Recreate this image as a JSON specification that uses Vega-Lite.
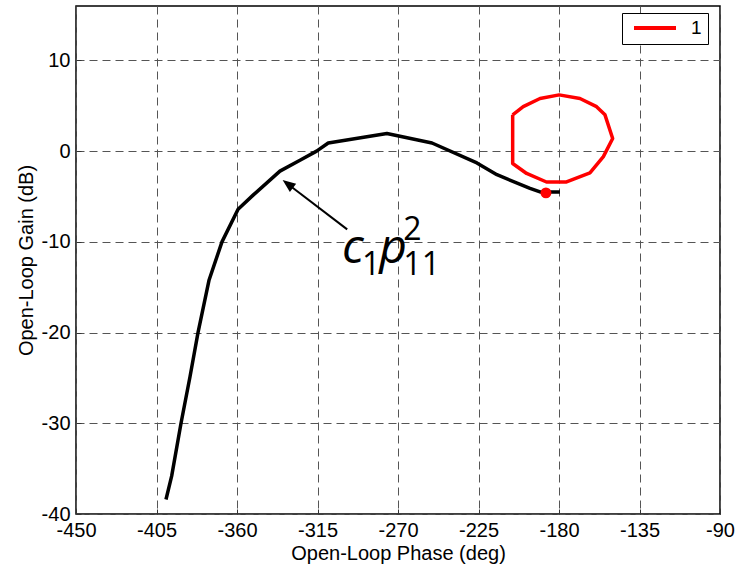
{
  "$schema": "https://vega.github.io/schema/vega-lite/v6.json",
  "width": 644,
  "height": 508,
  "autosize": "none",
  "padding": {"left": 76, "top": 6, "right": 21, "bottom": 53},
  "background": "white",
  "config": {
    "view": {"stroke": "black", "strokeWidth": 1.5},
    "font": "Liberation Sans",
    "axis": {
      "domain": false,
      "grid": true,
      "gridColor": "#555555",
      "gridDash": [8, 5],
      "gridWidth": 1,
      "gridOpacity": 1,
      "ticks": true,
      "tickColor": "#333333",
      "tickSize": -5,
      "labelFlush": false,
      "labelOverlap": false,
      "labelFont": "Liberation Sans",
      "labelFontSize": 20,
      "labelColor": "black",
      "titleFont": "Liberation Sans",
      "titleFontSize": 20,
      "titleFontWeight": "normal",
      "titleColor": "black"
    }
  },
  "datasets": {
    "curve": [
      {"phase": -399.7, "gain": -38.4, "i": 1},
      {"phase": -396.5, "gain": -35.8, "i": 2},
      {"phase": -391.3, "gain": -30.0, "i": 3},
      {"phase": -386.3, "gain": -24.9, "i": 4},
      {"phase": -381.8, "gain": -20.0, "i": 5},
      {"phase": -375.6, "gain": -14.2, "i": 6},
      {"phase": -368.4, "gain": -10.0, "i": 7},
      {"phase": -359.4, "gain": -6.4, "i": 8},
      {"phase": -351.0, "gain": -4.85, "i": 9},
      {"phase": -336.0, "gain": -2.2, "i": 10},
      {"phase": -324.8, "gain": -1.0, "i": 11},
      {"phase": -315.5, "gain": 0.0, "i": 12},
      {"phase": -309.0, "gain": 0.9, "i": 13},
      {"phase": -285.7, "gain": 1.65, "i": 14},
      {"phase": -276.2, "gain": 1.95, "i": 15},
      {"phase": -251.0, "gain": 0.9, "i": 16},
      {"phase": -225.9, "gain": -1.3, "i": 17},
      {"phase": -214.7, "gain": -2.6, "i": 18},
      {"phase": -196.2, "gain": -4.1, "i": 19},
      {"phase": -190.6, "gain": -4.5, "i": 20},
      {"phase": -179.5, "gain": -4.5, "i": 21}
    ],
    "loop": [
      {"phase": -205.9, "gain": 4.0, "i": 1, "series": "1"},
      {"phase": -205.9, "gain": -1.36, "i": 2, "series": "1"},
      {"phase": -198.1, "gain": -2.46, "i": 3, "series": "1"},
      {"phase": -187.0, "gain": -3.4, "i": 4, "series": "1"},
      {"phase": -175.8, "gain": -3.4, "i": 5, "series": "1"},
      {"phase": -162.7, "gain": -2.4, "i": 6, "series": "1"},
      {"phase": -155.2, "gain": -0.6, "i": 7, "series": "1"},
      {"phase": -150.0, "gain": 1.4, "i": 8, "series": "1"},
      {"phase": -154.3, "gain": 4.0, "i": 9, "series": "1"},
      {"phase": -159.0, "gain": 4.9, "i": 10, "series": "1"},
      {"phase": -168.3, "gain": 5.8, "i": 11, "series": "1"},
      {"phase": -179.9, "gain": 6.2, "i": 12, "series": "1"},
      {"phase": -190.6, "gain": 5.8, "i": 13, "series": "1"},
      {"phase": -200.0, "gain": 4.9, "i": 14, "series": "1"},
      {"phase": -205.9, "gain": 4.0, "i": 15, "series": "1"}
    ],
    "dot": [{"phase": -187.3, "gain": -4.6}],
    "arrow": [{"x1": -298.4, "y1": -8.62, "x2": -330.9, "y2": -3.73}],
    "head": [{"phase": -334.5, "gain": -3.19}],
    "big": [
      {"phase": -301.3, "gain": -12.33, "t": "c"},
      {"phase": -280.5, "gain": -12.33, "t": "p"}
    ],
    "small": [
      {"phase": -290.1, "gain": -13.66, "t": "1"},
      {"phase": -267.0, "gain": -9.8, "t": "2"},
      {"phase": -267.0, "gain": -13.66, "t": "11"}
    ]
  },
  "layer": [
    {
      "data": {"name": "curve"},
      "mark": {"type": "line", "color": "black", "strokeWidth": 3.5, "strokeJoin": "round"},
      "encoding": {
        "x": {
          "field": "phase", "type": "quantitative",
          "scale": {"domain": [-450, -90], "nice": false, "zero": false},
          "axis": {"values": [-450, -405, -360, -315, -270, -225, -180, -135, -90], "labelExpr": "'' + datum.value", "title": "Open-Loop Phase (deg)", "labelFontSize": 20, "titleFontSize": 20, "labelPadding": 11, "titlePadding": 3, "labelFlush": false}
        },
        "y": {
          "field": "gain", "type": "quantitative",
          "scale": {"domain": [-40, 16], "nice": false, "zero": false},
          "axis": {"values": [-40, -30, -20, -10, 0, 10], "labelExpr": "'' + datum.value", "title": "Open-Loop Gain (dB)", "labelFontSize": 20, "titleFontSize": 20, "labelPadding": 11, "titlePadding": 5, "labelFlush": false}
        },
        "order": {"field": "i", "type": "quantitative"}
      }
    },
    {
      "data": {"name": "loop"},
      "mark": {"type": "line", "strokeWidth": 3.5, "strokeJoin": "round"},
      "encoding": {
        "x": {"field": "phase", "type": "quantitative"},
        "y": {"field": "gain", "type": "quantitative"},
        "order": {"field": "i", "type": "quantitative"},
        "color": {
          "field": "series", "type": "nominal",
          "scale": {"domain": ["1"], "range": ["#ff0000"]},
          "legend": {"title": null, "orient": "none", "legendX": 546, "legendY": 7, "symbolType": "stroke", "symbolStrokeWidth": 4, "symbolSize": 1764, "symbolOffset": 4, "clipHeight": 18, "labelOffset": 13, "labelExpr": "datum.label + ' '", "labelFont": "Liberation Sans", "labelFontSize": 19, "labelColor": "black", "strokeColor": "black", "fillColor": "white", "cornerRadius": 0, "padding": 6}
        }
      }
    },
    {
      "data": {"name": "dot"},
      "mark": {"type": "point", "filled": true, "color": "#ff0000", "opacity": 1, "size": 120},
      "encoding": {
        "x": {"field": "phase", "type": "quantitative"},
        "y": {"field": "gain", "type": "quantitative"}
      }
    },
    {
      "data": {"name": "arrow"},
      "mark": {"type": "rule", "color": "black", "strokeWidth": 2},
      "encoding": {
        "x": {"field": "x1", "type": "quantitative"},
        "y": {"field": "y1", "type": "quantitative"},
        "x2": {"field": "x2"},
        "y2": {"field": "y2"}
      }
    },
    {
      "data": {"name": "head"},
      "mark": {"type": "point", "shape": "M0,0 L-0.4,1 L0.4,1 Z", "filled": true, "color": "black", "opacity": 1, "size": 676, "angle": 307},
      "encoding": {
        "x": {"field": "phase", "type": "quantitative"},
        "y": {"field": "gain", "type": "quantitative"}
      }
    },
    {
      "data": {"name": "big"},
      "mark": {"type": "text", "font": "Open Sans", "fontStyle": "italic", "fontSize": 48, "align": "left", "baseline": "alphabetic", "color": "black"},
      "encoding": {
        "x": {"field": "phase", "type": "quantitative"},
        "y": {"field": "gain", "type": "quantitative"},
        "text": {"field": "t"}
      }
    },
    {
      "data": {"name": "small"},
      "mark": {"type": "text", "font": "Open Sans", "fontSize": 32, "align": "left", "baseline": "alphabetic", "color": "black"},
      "encoding": {
        "x": {"field": "phase", "type": "quantitative"},
        "y": {"field": "gain", "type": "quantitative"},
        "text": {"field": "t"}
      }
    }
  ]
}
